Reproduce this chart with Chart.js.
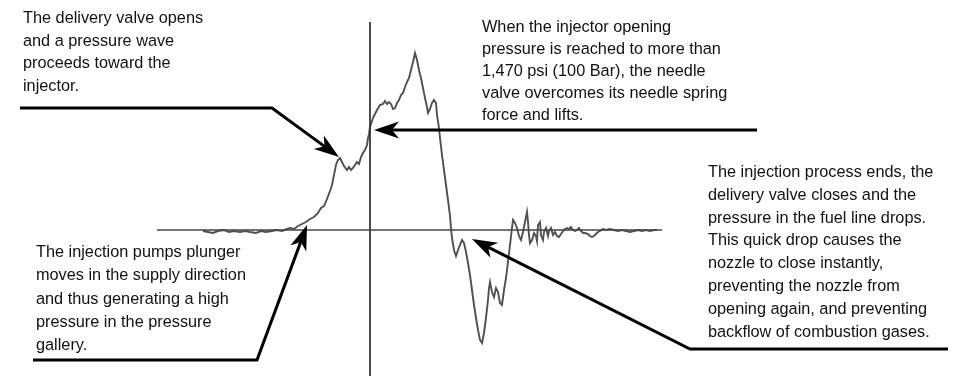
<!DOCTYPE html>
<html>
<head>
<meta charset="utf-8">
<script src="https://cdn.jsdelivr.net/npm/chart.js@4/dist/chart.umd.min.js"></script>
<style>
  html, body { margin: 0; padding: 0; background: #fff; overflow: hidden; }
  #wrap { position: relative; width: 956px; height: 376px; }
  .note {
    position: absolute;
    font-family: "Liberation Sans", Arial, Helvetica, sans-serif;
    font-size: 16.3px;
    color: #111;
    white-space: nowrap;
  }
</style>
</head>
<body>
<div id="wrap">
  <canvas id="waveChart"></canvas>
  <div class="note" style="left:23px; top:6px; line-height:22.7px;">The delivery valve opens<br>and a pressure wave<br>proceeds toward the<br>injector.</div>
  <div class="note" style="left:482px; top:15px; line-height:22.1px;">When the injector opening<br>pressure is reached to more than<br>1,470 psi (100 Bar), the needle<br>valve overcomes its needle spring<br>force and lifts.</div>
  <div class="note" style="left:708px; top:160px; line-height:22.8px;">The injection process ends, the<br>delivery valve closes and the<br>pressure in the fuel line drops.<br>This quick drop causes the<br>nozzle to close instantly,<br>preventing the nozzle from<br>opening again, and preventing<br>backflow of combustion gases.</div>
  <div class="note" style="left:36px; top:240px; line-height:23.3px;">The injection pumps plunger<br>moves in the supply direction<br>and thus generating a high<br>pressure in the pressure<br>gallery.</div>
</div>
<script>
// time axis (deg), 0 = injector opening
const crankAngle = [
  -16.7, -16.2, -15.7, -15.2, -14.6, -14.1, -13.6, -13.0, -12.5, -12.0,
  -11.4, -10.9, -10.4, -9.8, -9.3, -8.8, -8.3, -8.0, -7.6, -7.2,
  -6.8, -6.4, -6.0, -5.6, -5.2, -4.9, -4.6, -4.3, -4.0, -3.8,
  -3.6, -3.4, -3.2, -3.0, -2.8, -2.6, -2.3, -2.1, -1.9, -1.7,
  -1.5, -1.3, -1.1, -0.9, -0.7, -0.5, -0.3, -0.2, -0.1, 0.0,
  0.1, 0.3, 0.5, 0.7, 1.0, 1.3, 1.5, 1.7, 1.9, 2.1,
  2.3, 2.5, 2.7, 2.9, 3.1, 3.3, 3.5, 3.7, 3.9, 4.1,
  4.3, 4.5, 4.7, 4.9, 5.1, 5.3, 5.5, 5.7, 5.8, 6.0,
  6.2, 6.4, 6.6, 6.7, 6.9, 7.0, 7.2, 7.4, 7.6, 7.8,
  8.0, 8.1, 8.2, 8.4, 8.6, 8.8, 9.0, 9.2, 9.4, 9.6,
  9.8, 10.0, 10.2, 10.4, 10.6, 10.8, 11.0, 11.2, 11.4, 11.6,
  11.8, 11.9, 12.0, 12.2, 12.4, 12.6, 12.8, 13.0, 13.2, 13.4,
  13.6, 13.8, 14.0, 14.2, 14.3, 14.5, 14.7, 14.9, 15.1, 15.3,
  15.5, 15.7, 15.8, 15.9, 16.0, 16.2, 16.4, 16.6, 16.7, 16.8,
  17.0, 17.1, 17.3, 17.4, 17.6, 17.8, 17.9, 18.1, 18.3, 18.5,
  18.7, 18.9, 19.1, 19.3, 19.5, 19.7, 19.9, 20.1, 20.3, 20.5,
  20.7, 20.9, 21.1, 21.3, 21.5, 21.8, 22.0, 22.2, 22.4, 22.6,
  22.8, 23.0, 23.3, 23.6, 24.0, 24.4, 24.8, 25.2, 25.6, 26.0,
  26.4, 26.8, 27.2, 27.6, 28.0, 28.4, 28.7
];

// line pressure (bar)
const linePressure = [
  -1, -2, -3, -1, 0, -2, -1, -2, -1, -2,
  -3, -1, -2, -1, 0, -1, 1, 2, 1, 4,
  6, 8, 11, 13, 17, 22, 24, 31, 39, 45,
  55, 65, 70, 72, 68, 64, 60, 63, 60, 62,
  65, 68, 66, 73, 77, 80, 85, 92, 96, 103,
  106, 112, 116, 120, 125, 126, 129, 126, 128, 126,
  121, 122, 127, 130, 135, 137, 143, 148, 152, 160,
  168, 177, 170, 160, 152, 142, 132, 123, 117, 121,
  127, 130, 127, 115, 102, 92, 75, 60, 45, 30,
  14, 2, -8, -20, -26, -20, -15, -10, -13, -22,
  -33, -45, -60, -75, -88, -100, -110, -113, -103, -88,
  -70, -58, -52, -62, -67, -58, -62, -73, -75, -60,
  -48, -32, -15, 2, 10, 7, 2, -6, -10, -2,
  8, 18, 8, -5, -13, -10, -3, -6, -11, 5,
  8, -5, -10, -2, 2, -6, -1, 2, -5, -2,
  -6, -7, -4, -1, 1, 2, 1, 3, 0, -1,
  0, 2, -1, -3, -3, -4, -6, -7, -6, -4,
  -2, -1, 1, 0, 1, 0, -1, 0, -1, -2,
  -1, 0, -1, 0, -1, 0, 0
];

// reference axes
const zeroLineAngle = [-21.3, 29.2];
const openingLinePressure = [208, -146];

// callout leaders: [angle, pressure] points, arrow at the last one
const calloutLeaders = [
  [[-35, 122], [-9.8, 122], [-3.1, 73]],
  [[38.7, 100], [0.4, 100]],
  [[-33.7, -130], [-11.3, -130], [-6.3, 5]],
  [[57.8, -119], [32, -119], [10.2, -9]]
];

const arrowPlugin = {
  id: 'calloutArrows',
  afterDatasetsDraw(chart) {
    const ctx = chart.ctx;
    const xs = chart.scales.x;
    const ys = chart.scales.y;
    ctx.save();
    ctx.strokeStyle = '#000';
    ctx.fillStyle = '#000';
    ctx.lineWidth = 3;
    ctx.lineJoin = 'miter';
    calloutLeaders.forEach(leader => {
      const pts = leader.map(p => [xs.getPixelForValue(p[0]), ys.getPixelForValue(p[1])]);
      const tip = pts[pts.length - 1];
      const prev = pts[pts.length - 2];
      const ang = Math.atan2(tip[1] - prev[1], tip[0] - prev[0]);
      const len = 25, half = 8.5, notch = 18;
      ctx.beginPath();
      ctx.moveTo(pts[0][0], pts[0][1]);
      for (let i = 1; i < pts.length - 1; i++) ctx.lineTo(pts[i][0], pts[i][1]);
      ctx.lineTo(tip[0] - Math.cos(ang) * notch, tip[1] - Math.sin(ang) * notch);
      ctx.stroke();
      const cos = Math.cos(ang), sin = Math.sin(ang);
      ctx.beginPath();
      ctx.moveTo(tip[0], tip[1]);
      ctx.lineTo(tip[0] - cos * len - sin * half, tip[1] - sin * len + cos * half);
      ctx.lineTo(tip[0] - cos * notch, tip[1] - sin * notch);
      ctx.lineTo(tip[0] - cos * len + sin * half, tip[1] - sin * len - cos * half);
      ctx.closePath();
      ctx.fill();
    });
    ctx.restore();
  }
};

const ctx = document.getElementById('waveChart').getContext('2d');
new Chart(ctx, {
  type: 'line',
  data: {
    datasets: [
      {
        label: 'zero',
        data: zeroLineAngle.map(a => ({ x: a, y: 0 })),
        borderColor: '#444',
        borderWidth: 1.6,
        pointRadius: 0
      },
      {
        label: 'opening',
        data: openingLinePressure.map(p => ({ x: 0, y: p })),
        borderColor: '#333',
        borderWidth: 1,
        pointRadius: 0
      },
      {
        label: 'Line pressure',
        data: crankAngle.map((a, i) => ({ x: a, y: linePressure[i] })),
        borderColor: '#505050',
        borderWidth: 1.9,
        pointRadius: 0,
        tension: 0
      }
    ]
  },
  options: {
    responsive: true,
    maintainAspectRatio: false,
    animation: false,
    layout: { padding: 0 },
    plugins: {
      legend: { display: false },
      tooltip: { enabled: false }
    },
    scales: {
      x: { type: 'linear', min: -37, max: 58.6, display: false },
      y: { type: 'linear', min: -146, max: 230, display: false }
    }
  },
  plugins: [arrowPlugin]
});
</script>
</body>
</html>
